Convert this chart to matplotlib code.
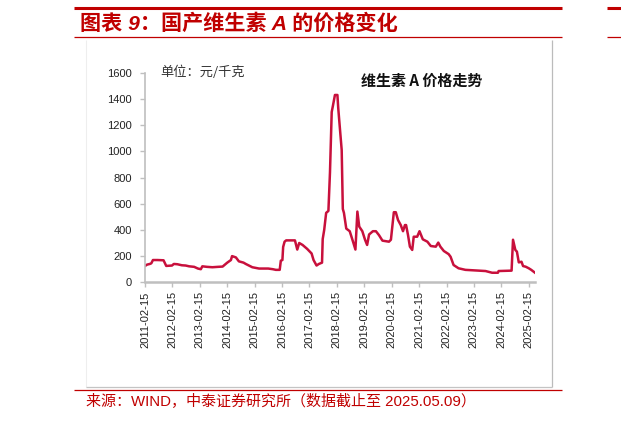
import matplotlib
matplotlib.use("Agg")
import matplotlib.pyplot as plt
import pandas as pd
from matplotlib.lines import Line2D

dates = [
    "2011-02-15", "2011-03-15", "2011-04-20", "2011-05-10", "2011-06-01", "2011-08-01",
    "2011-10-20", "2011-11-25", "2012-02-10", "2012-03-05", "2012-04-20", "2012-06-20",
    "2012-08-10", "2012-09-25", "2012-12-01", "2013-01-20", "2013-02-28", "2013-03-20",
    "2013-05-20", "2013-08-01", "2013-10-15", "2013-12-15", "2014-02-15", "2014-04-05",
    "2014-04-20", "2014-06-10", "2014-07-20", "2014-09-20", "2014-10-20", "2015-01-15",
    "2015-04-15", "2015-08-15", "2015-10-15", "2015-11-25", "2016-01-15", "2016-01-30",
    "2016-02-20", "2016-03-01", "2016-03-20", "2016-04-10", "2016-08-05", "2016-09-05",
    "2016-10-01", "2016-11-15", "2017-01-15", "2017-03-15", "2017-04-10", "2017-05-20",
    "2017-06-20", "2017-08-01", "2017-08-10", "2017-08-30", "2017-09-25", "2017-10-25",
    "2017-11-15", "2017-12-08", "2017-12-25", "2018-01-20", "2018-02-22", "2018-03-05",
    "2018-03-25", "2018-04-20", "2018-05-05", "2018-05-20", "2018-06-20", "2018-08-05",
    "2018-09-10", "2018-10-20", "2018-11-15", "2018-12-10", "2019-01-20", "2019-02-25",
    "2019-03-25", "2019-04-20", "2019-06-10", "2019-07-20", "2019-08-30", "2019-10-15",
    "2020-01-10", "2020-02-05", "2020-03-15", "2020-04-10", "2020-05-10", "2020-06-15",
    "2020-07-15", "2020-08-10", "2020-08-25", "2020-09-20", "2020-10-15", "2020-11-15",
    "2020-12-05", "2021-01-20", "2021-02-20", "2021-04-05", "2021-06-05", "2021-07-20",
    "2021-09-25", "2021-10-28", "2021-11-25", "2022-01-10", "2022-03-15", "2022-04-10",
    "2022-05-20", "2022-07-25", "2022-10-25", "2023-07-20", "2023-10-15", "2024-01-01",
    "2024-01-10", "2024-07-01", "2024-07-20", "2024-08-20", "2024-09-10", "2024-10-05",
    "2024-11-10", "2024-12-01", "2025-01-05", "2025-02-15", "2025-03-20", "2025-05-09",
]
prices = [
    125, 135, 140, 145, 170, 170,
    168, 125, 128, 140, 138, 130,
    128, 122, 118, 105, 100, 122,
    118, 115, 118, 120, 150, 170,
    200, 190, 160, 150, 140, 115,
    105, 105, 100, 95, 95, 165,
    170, 270, 310, 320, 320, 250,
    300, 285, 255, 220, 170, 128,
    140, 150, 330, 400, 530, 545,
    840, 1300, 1350, 1430, 1430, 1330,
    1190, 1010, 560, 530, 410, 390,
    325, 250, 540, 425, 390, 325,
    285, 365, 390, 390, 360, 318,
    310, 325, 535, 535, 475, 437,
    390, 437, 437, 360, 272, 247,
    348, 348, 390, 328, 310, 277,
    272, 303, 272, 239, 215, 195,
    132, 107, 95, 86, 73, 73,
    86, 89, 325, 247, 234, 152,
    157, 124, 119, 107, 95, 73,
]
tick_dates = [f"{y}-02-15" for y in range(2011, 2026)]
yticks = [0, 200, 400, 600, 800, 1000, 1200, 1400, 1600]

title_text = "图表 9：国产维生素 A 的价格变化"
unit_text = "单位：元/千克"
legend_text = "维生素 A 价格走势"
source_text = "来源：WIND，中泰证券研究所（数据截止至 2025.05.09）"

plt.rcParams['font.family'] = ['Liberation Sans', 'Noto Sans CJK SC', 'DejaVu Sans']

W, H = 621, 421
fig = plt.figure(figsize=(W / 100, H / 100), dpi=100)

RED = "#C00000"
LINE = "#C8103C"
GRAY = "#BFBFBF"


def hline(x0, x1, y, color, lw):
    fig.add_artist(Line2D([x0 / W, x1 / W], [1 - y / H] * 2, color=color, lw=lw,
                          transform=fig.transFigure, solid_capstyle='butt'))


def vline(x, y0, y1, color, lw):
    fig.add_artist(Line2D([x / W] * 2, [1 - y0 / H, 1 - y1 / H], color=color, lw=lw,
                          transform=fig.transFigure, solid_capstyle='butt'))


# frame lines
hline(74, 562, 8, RED, 2.2)
hline(607, 621, 8, RED, 2.2)
hline(74, 562, 37.3, RED, 0.9)
hline(607, 621, 37.3, RED, 0.9)
hline(74, 562, 390, RED, 0.9)
vline(85.7, 40, 386.7, "#EEEEEE", 0.8)
vline(551.7, 40, 386.7, "#BBBBBB", 0.9)
hline(85.7, 551.7, 386.7, "#C4C4C4", 0.9)

fig.text(80 / W, 1 - 23.5 / H, title_text, color=RED, fontsize=15.2, fontweight='bold', style='italic',
         va='center', ha='left', family=['Liberation Sans', 'Noto Sans CJK SC'])
fig.text(86 / W, 1 - 400.5 / H, source_text, color=RED, fontsize=10.8, va='center', ha='left',
         family=['Liberation Sans', 'Noto Sans CJK SC'])

ax = fig.add_axes([145 / W, 1 - 282.3 / H, (535 - 145) / W, (282.3 - 72.7) / H])
d = pd.to_datetime(dates)
ax.plot(d, prices, color=LINE, lw=1.8, solid_joinstyle='round')
ax.set_xlim(pd.Timestamp("2011-02-15"), pd.Timestamp("2025-05-09"))
ax.set_ylim(0, 1600)
ax.set_yticks(yticks)
ax.set_yticklabels([str(v) for v in yticks])
ax.set_xticks(pd.to_datetime(tick_dates))
ax.set_xticklabels(tick_dates, rotation=90)
for s in ['top', 'right']:
    ax.spines[s].set_visible(False)
ax.spines['left'].set_color(GRAY)
ax.spines['left'].set_linewidth(1.2)
ax.spines['bottom'].set_color(GRAY)
ax.spines['bottom'].set_linewidth(1.8)
ax.tick_params(axis='both', colors=GRAY, labelcolor='#222222', labelsize=8, length=3.5, width=1)
ax.tick_params(axis='y', pad=6)
ax.tick_params(axis='x', pad=3)

ax.text(0.04, 1.004, unit_text, transform=ax.transAxes, fontsize=9.5, color='#333333',
        va='center', ha='left', family=['Noto Sans CJK SC'])
ax.text(0.71, 0.96, legend_text, transform=ax.transAxes, fontsize=10.8, color='#111111',
        fontweight='bold', va='center', ha='center', family=['Noto Sans CJK SC'])

fig.savefig("out.png", dpi=100)
